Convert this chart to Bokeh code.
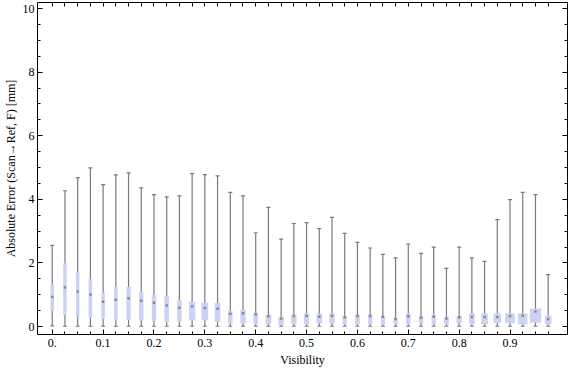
from bokeh.plotting import figure
from bokeh.models import FixedTicker, CustomJSTickFormatter, LinearAxis, Range1d, ColumnDataSource
from bokeh.embed import file_html
from bokeh.resources import INLINE

# ---- data ----
visibility = [0.0, 0.025, 0.05, 0.075, 0.1, 0.125, 0.15, 0.175, 0.2, 0.225,
              0.25, 0.275, 0.3, 0.325, 0.35, 0.375, 0.4, 0.425, 0.45, 0.475,
              0.5, 0.525, 0.55, 0.575, 0.6, 0.625, 0.65, 0.675, 0.7, 0.725,
              0.75, 0.775, 0.8, 0.825, 0.85, 0.875, 0.9, 0.925, 0.95, 0.975]
whisker_hi = [2.55, 4.27, 4.68, 4.99, 4.46, 4.77, 4.83, 4.36, 4.15, 4.08,
              4.11, 4.81, 4.78, 4.74, 4.22, 4.11, 2.95, 3.75, 2.75, 3.24,
              3.27, 3.08, 3.43, 2.93, 2.65, 2.47, 2.27, 2.16, 2.59, 2.30,
              2.50, 1.83, 2.50, 2.16, 2.05, 3.36, 3.99, 4.22, 4.15, 1.63]
q3 = [1.32, 1.99, 1.71, 1.49, 1.06, 1.25, 1.25, 1.09, 1.00, 0.97,
      0.83, 0.78, 0.75, 0.75, 0.50, 0.53, 0.45, 0.38, 0.31, 0.38,
      0.41, 0.41, 0.41, 0.34, 0.38, 0.38, 0.34, 0.29, 0.41, 0.32,
      0.38, 0.31, 0.34, 0.41, 0.41, 0.41, 0.41, 0.41, 0.57, 0.34]
median = [0.93, 1.23, 1.10, 1.01, 0.78, 0.84, 0.89, 0.81, 0.75, 0.66,
          0.59, 0.63, 0.58, 0.56, 0.40, 0.42, 0.39, 0.32, 0.25, 0.33,
          0.33, 0.31, 0.33, 0.29, 0.33, 0.33, 0.31, 0.24, 0.32, 0.28,
          0.31, 0.25, 0.29, 0.30, 0.30, 0.30, 0.33, 0.34, 0.47, 0.24]
q1 = [0.50, 0.36, 0.31, 0.28, 0.24, 0.22, 0.21, 0.19, 0.17, 0.14,
      0.17, 0.20, 0.20, 0.14, 0.10, 0.10, 0.07, 0.07, 0.05, 0.07,
      0.07, 0.10, 0.10, 0.07, 0.07, 0.07, 0.07, 0.07, 0.07, 0.10,
      0.07, 0.07, 0.10, 0.07, 0.07, 0.10, 0.10, 0.07, 0.12, 0.07]
whisker_lo = [0.02, 0.01, 0.01, 0.01, 0.01, 0.01, 0.01, 0.01, 0.01, 0.01,
              0.01, 0.01, 0.01, 0.01, 0.01, 0.01, 0.01, 0.01, 0.01, 0.01,
              0.01, 0.01, 0.01, 0.01, 0.01, 0.01, 0.01, 0.01, 0.01, 0.01,
              0.01, 0.01, 0.01, 0.01, 0.01, 0.01, 0.01, 0.01, 0.01, 0.01]
# box widths in visibility units
box_width = [0.0068, 0.0068, 0.0068, 0.0072, 0.0068, 0.0068, 0.0085, 0.0085, 0.0085, 0.0090,
             0.0090, 0.0125, 0.0130, 0.0110, 0.0090, 0.0105, 0.0090, 0.0110, 0.0105, 0.0105,
             0.0105, 0.0110, 0.0105, 0.0085, 0.0090, 0.0085, 0.0085, 0.0085, 0.0090, 0.0085,
             0.0085, 0.0098, 0.0105, 0.0110, 0.0130, 0.0145, 0.0185, 0.0185, 0.0225, 0.0130]

x_major = [0.0, 0.1, 0.2, 0.3, 0.4, 0.5, 0.6, 0.7, 0.8, 0.9]
y_major = [0, 2, 4, 6, 8, 10]
y_minor = [0, 0.5, 1, 1.5, 2, 2.5, 3, 3.5, 4, 4.5, 5, 5.5, 6, 6.5, 7, 7.5, 8, 8.5, 9, 9.5, 10]

src = ColumnDataSource(dict(x=visibility, hi=whisker_hi, lo=whisker_lo,
                            q1=q1, q3=q3, med=median, w=box_width))

FONT = "Liberation Serif"

p = figure(width=568, height=369, output_backend="svg", toolbar_location=None,
           x_range=Range1d(-0.029, 1.013), y_range=Range1d(-0.25, 10.19),
           min_border_top=2, min_border_right=1, min_border_left=4, min_border_bottom=2)
p.xgrid.visible = False
p.ygrid.visible = False
p.outline_line_color = "black"
p.outline_line_width = 1
p.background_fill_color = "white"
p.border_fill_color = "white"

# whiskers
p.segment(x0="x", y0="lo", x1="x", y1="hi", source=src, line_color="#7a7a7a", line_width=1.2)
p.scatter(x="x", y="hi", source=src, marker="dash", size=4, line_color="#7a7a7a", line_width=1.2)
p.scatter(x="x", y="lo", source=src, marker="dash", size=4, line_color="#7a7a7a", line_width=1.2)
# boxes
p.vbar(x="x", width="w", bottom="q1", top="q3", source=src,
       fill_color="#cbd2f4", line_color=None)
# medians
p.scatter(x="x", y="med", source=src, marker="square", size=2.5,
          fill_color="#8a8a8a", line_color=None)

def style_axis(ax, ticks, minor, labels=True):
    ax.ticker = FixedTicker(ticks=ticks, minor_ticks=minor)
    ax.axis_line_color = None
    ax.major_tick_in = 5
    ax.major_tick_out = 0
    ax.minor_tick_in = 3
    ax.minor_tick_out = 0
    ax.major_tick_line_color = "black"
    ax.minor_tick_line_color = "black"
    ax.major_label_text_font = FONT
    ax.major_label_text_font_size = "12px"
    ax.major_label_text_color = "black"
    ax.axis_label_text_font = FONT
    ax.axis_label_text_font_size = "12px"
    ax.axis_label_text_font_style = "normal"
    ax.axis_label_text_color = "black"
    if not labels:
        ax.formatter = CustomJSTickFormatter(code="return '';")
        ax.major_label_standoff = 0

x_minor = visibility
style_axis(p.xaxis[0], x_major, x_minor)
p.xaxis[0].formatter = CustomJSTickFormatter(code="return tick == 0 ? '0.' : tick.toFixed(1);")
p.xaxis[0].major_label_standoff = 4
p.xaxis[0].axis_label = "Visibility"
p.xaxis[0].axis_label_standoff = 3

style_axis(p.yaxis[0], y_major, y_minor)
p.yaxis[0].major_label_standoff = 3
p.yaxis[0].axis_label = "Absolute Error (Scan\u2192Ref, F) [mm]"
p.yaxis[0].axis_label_standoff = 2

top = LinearAxis()
style_axis(top, visibility, [], labels=False)
top.major_tick_in = 4
p.add_layout(top, "above")

right = LinearAxis()
style_axis(right, y_major, y_minor, labels=False)
p.add_layout(right, "right")

open("out.html", "w").write(file_html(p, INLINE))
